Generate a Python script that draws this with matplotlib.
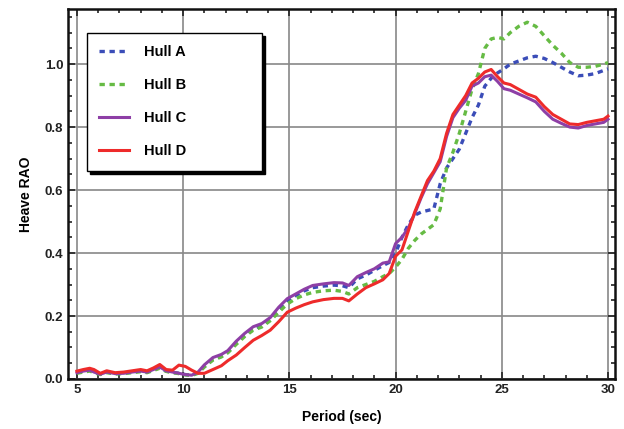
import numpy as np
import matplotlib.pyplot as plt
from matplotlib.ticker import MultipleLocator

# Период (с) - общая сетка для всех корпусов
period = [5.0, 5.3, 5.6, 5.8, 6.1, 6.4, 6.8, 7.2, 7.6, 8.0, 8.3, 8.6, 8.9, 9.2, 9.5,
          9.8, 10.1, 10.4, 10.7, 11.0, 11.4, 11.8, 12.1, 12.5, 12.9, 13.3, 13.7, 14.1,
          14.5, 14.9, 15.3, 15.7, 16.1, 16.6, 17.1, 17.5, 17.8, 18.2, 18.6, 19.0, 19.4,
          19.7, 20.0, 20.3, 20.6, 20.9, 21.2, 21.5, 21.8, 22.1, 22.4, 22.7, 23.0, 23.3,
          23.6, 23.9, 24.2, 24.5, 24.8, 25.1, 25.4, 25.8, 26.2, 26.6, 27.0, 27.4, 27.8,
          28.2, 28.6, 29.0, 29.4, 29.8, 30.0]

hull_a = [0.022, 0.026, 0.028, 0.022, 0.016, 0.022, 0.017, 0.018, 0.022, 0.025, 0.022,
          0.029, 0.036, 0.025, 0.021, 0.018, 0.014, 0.012, 0.02, 0.04, 0.062, 0.072,
          0.085, 0.115, 0.14, 0.16, 0.17, 0.19, 0.22, 0.25, 0.265, 0.28, 0.29, 0.295,
          0.298, 0.296, 0.29, 0.318, 0.33, 0.345, 0.36, 0.37, 0.40, 0.45, 0.49, 0.52,
          0.53, 0.535, 0.54, 0.62, 0.67, 0.70, 0.73, 0.78, 0.83, 0.87, 0.93, 0.955,
          0.972, 0.985, 1.0, 1.01, 1.02, 1.025, 1.018, 1.005, 0.99, 0.975, 0.963,
          0.965, 0.97, 0.98, 0.985]

hull_b = [0.018, 0.022, 0.025, 0.02, 0.014, 0.02, 0.016, 0.017, 0.02, 0.023, 0.02,
          0.027, 0.034, 0.024, 0.02, 0.017, 0.013, 0.011, 0.018, 0.038, 0.06, 0.07,
          0.083, 0.11, 0.135, 0.155, 0.165, 0.185, 0.212, 0.238, 0.255, 0.267, 0.275,
          0.28, 0.282, 0.278, 0.27, 0.29, 0.30, 0.31, 0.325, 0.335, 0.355, 0.38, 0.415,
          0.44, 0.46, 0.475, 0.49, 0.54, 0.67, 0.72, 0.78, 0.85, 0.92, 0.97, 1.05,
          1.08, 1.085, 1.08, 1.10, 1.12, 1.133, 1.12, 1.09, 1.06, 1.035, 1.005, 0.99,
          0.99, 0.993, 1.0, 1.005]

hull_c = [0.02, 0.025, 0.028, 0.022, 0.015, 0.022, 0.017, 0.018, 0.022, 0.025, 0.022,
          0.03, 0.038, 0.026, 0.022, 0.018, 0.014, 0.012, 0.022, 0.045, 0.068, 0.078,
          0.09, 0.12, 0.145, 0.166, 0.176, 0.195, 0.228, 0.255, 0.27, 0.285, 0.297,
          0.302, 0.306, 0.305, 0.297, 0.325, 0.338, 0.35, 0.368, 0.372, 0.43, 0.45,
          0.48, 0.525, 0.575, 0.62, 0.655, 0.69, 0.77, 0.83, 0.86, 0.885, 0.93, 0.94,
          0.96, 0.965, 0.945, 0.922, 0.917, 0.905, 0.893, 0.88, 0.85, 0.825, 0.812,
          0.80, 0.797, 0.805, 0.81, 0.815, 0.825]

hull_d = [0.025, 0.03, 0.034, 0.03, 0.018, 0.026, 0.02, 0.022, 0.026, 0.03, 0.026,
          0.035, 0.046, 0.03, 0.028, 0.044, 0.04, 0.028, 0.018, 0.018, 0.03, 0.042,
          0.058, 0.076, 0.10, 0.123, 0.138, 0.155, 0.182, 0.212, 0.225, 0.236, 0.245,
          0.252, 0.256, 0.256, 0.248, 0.27, 0.29, 0.302, 0.315, 0.335, 0.39, 0.41,
          0.47, 0.53, 0.58, 0.63, 0.66, 0.70, 0.78, 0.84, 0.87, 0.90, 0.94, 0.955,
          0.975, 0.983, 0.96, 0.94, 0.935, 0.92, 0.905, 0.895, 0.865, 0.84, 0.825,
          0.81, 0.808, 0.815, 0.82, 0.825, 0.835]

plt.rcParams['font.family'] = ['Liberation Sans', 'DejaVu Sans']
plt.rcParams['font.weight'] = 'bold'

fig = plt.figure(figsize=(6.24, 4.29), dpi=100)
ax = fig.add_axes([0.109, 0.1166, 0.8766, 0.8624])

ax.plot(period, hull_a, color='#3b4db8', lw=2.4, ls=(0, (1.6, 1.4)), label='Hull A', zorder=3)
ax.plot(period, hull_b, color='#66bb44', lw=2.4, ls=(0, (1.6, 1.4)), label='Hull B', zorder=3)
ax.plot(period, hull_c, color='#8e3fa6', lw=2.2, label='Hull C', zorder=4)
ax.plot(period, hull_d, color='#ee2b2b', lw=2.2, label='Hull D', zorder=5)

ax.set_xlim(4.58, 30.33)
ax.set_ylim(0, 1.175)
ax.xaxis.set_major_locator(MultipleLocator(5))
ax.xaxis.set_minor_locator(MultipleLocator(1))
ax.yaxis.set_major_locator(MultipleLocator(0.2))
ax.yaxis.set_minor_locator(MultipleLocator(0.05))
ax.yaxis.set_major_formatter(plt.FuncFormatter(lambda v, p: f"{v:.1f}"))
ax.tick_params(which='both', direction='in', top=True, right=True, width=1.2,
               labelsize=9.5, colors='#222222')
ax.tick_params(which='major', length=5)
ax.tick_params(which='minor', length=3)
ax.grid(True, which='major', color='#888888', lw=1.2)
for s in ax.spines.values():
    s.set_linewidth(1.8)
    s.set_color('#111111')

ax.set_xlabel('Period (sec)', fontsize=10, fontweight='bold', labelpad=10)
ax.set_ylabel('Heave RAO', fontsize=10, fontweight='bold', labelpad=8)

# легенда с тенью, растянутая по ширине
leg = ax.legend(loc='upper left', bbox_to_anchor=(0.0347, 0.57, 0.32, 0.365),
                mode='expand', fontsize=10.5,
                frameon=True, fancybox=False, shadow={'color': 'black', 'alpha': 1.0},
                edgecolor='black', labelspacing=1.3, handlelength=2.05,
                handletextpad=1.0, borderpad=0.85, borderaxespad=0)
leg.get_frame().set_linewidth(1.0)
leg.set_zorder(10)

fig.savefig('out.png', dpi=100)
